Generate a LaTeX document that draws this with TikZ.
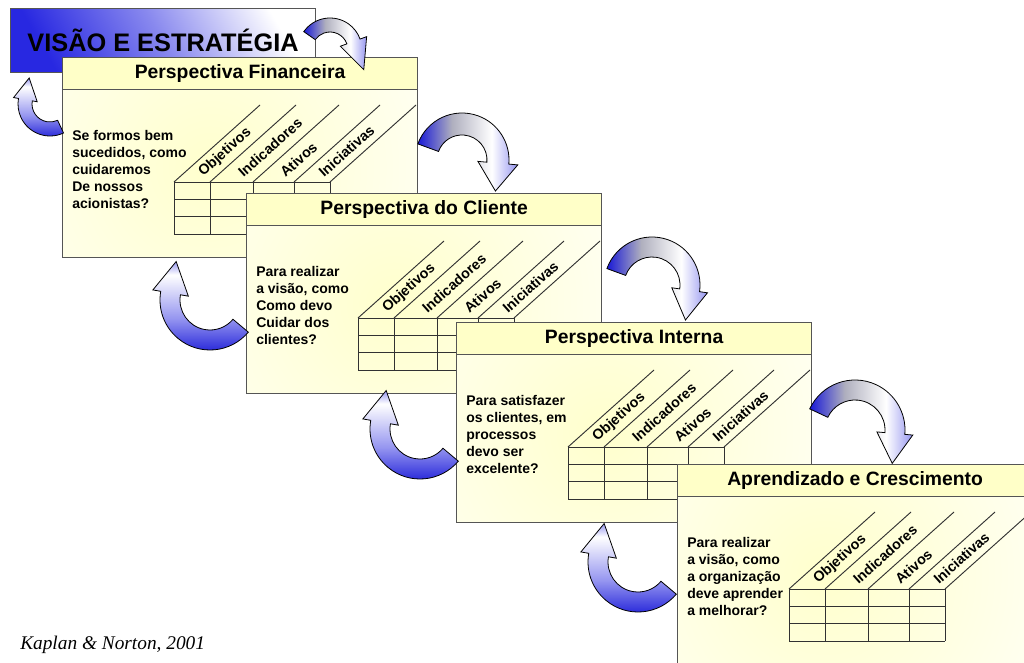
\documentclass[tikz,border=0pt]{standalone}
\usepackage{fontspec}
\setmainfont{Liberation Serif}
\setsansfont{Liberation Sans}
\usetikzlibrary{calc}
\definecolor{arrowblue}{RGB}{25,25,215}
\definecolor{arrowgray}{RGB}{175,175,190}
\definecolor{arrowlight}{RGB}{150,150,240}
\definecolor{visblue}{RGB}{40,40,225}
\definecolor{headyellow}{RGB}{255,255,200}
\definecolor{bodyyellow}{RGB}{255,255,205}
\definecolor{boxline}{RGB}{85,85,85}
\definecolor{tablinecol}{RGB}{50,50,50}

\pgfdeclarehorizontalshading{ribright}{100bp}{color(0bp)=(arrowblue); color(25bp)=(arrowblue); color(42bp)=(arrowgray); color(62bp)=(white); color(75bp)=(arrowlight); color(100bp)=(arrowlight)}
\pgfdeclareverticalshading{ribleft}{100bp}{color(0bp)=(arrowblue); color(25bp)=(arrowblue); color(45bp)=(arrowlight); color(68bp)=(white); color(75bp)=(arrowlight); color(100bp)=(arrowlight)}

% #1 centre, #2 R, #3 half band width, #4 half head width, #5 head length, #6 start angle, #7 end angle, #8 style
\newcommand{\ribbon}[8]{%
  \shade[#8] ($(#1)+({#6}:{#2+#3})$) arc[start angle={#6}, end angle={#7}, radius={#2+#3}]
    -- ($(#1)+({#7}:{#2+#4})$)
    -- ($(#1)+({#7}:{#2})+({#7-90}:{#5})$)
    -- ($(#1)+({#7}:{#2-#4})$)
    -- ($(#1)+({#7}:{#2-#3})$)
    arc[start angle={#7}, end angle={#6}, radius={#2-#3}] -- cycle;}

% #1 name, #2 x, #3 y, #4 title, #5 question
\newcommand{\persp}[5]{%
  \node[bodybox] (#1) at (#2,-#3) {};
  \node[headbox] (#1h) at (#1.north west) {#4};
  \node[question] (#1q) at ([shift={(10,-112)}]#1.north west) {#5};
  \begin{scope}[shift={(#1.north west)}]
    \foreach \yy in {125,142,159,177} \draw[tabline] (112,-\yy) -- (268,-\yy);
    \foreach \xx in {112,148,191,232,268} {
      \draw[tabline] (\xx,-125) -- (\xx,-177);
      \draw[tabline] (\xx,-125) -- ++(86,77);
    }
    \foreach \xa/\xb/\lab in {112/148/Objetivos,148/191/Indicadores,191/232/Ativos,232/268/Iniciativas}
      \node[collabel] (#1l\xa) at ({(\xa+\xb)/2+8.6},{-125+7.7}) {\lab};
  \end{scope}
}

\begin{document}
\begin{tikzpicture}[x=0.75pt,y=0.75pt,
  visbox/.style={draw=boxline, line width=0.8pt, top color=white, bottom color=visblue,
    middle color=visblue!55, shading angle=-60, minimum width=228.75pt, minimum height=48pt,
    inner sep=0pt, anchor=north west, font=\sffamily\bfseries\fontsize{19}{22}\selectfont},
  bodybox/.style={draw=boxline, line width=0.9pt, fill=white, minimum width=266.25pt,
    minimum height=150pt, inner sep=0pt, anchor=north west,
    path picture={\shade[inner color=bodyyellow, outer color=white]
      ([shift={(-30,-10)}]path picture bounding box.center) circle (320);}},
  headbox/.style={draw=boxline, line width=0.9pt, fill=headyellow, minimum width=266.25pt,
    minimum height=24pt, inner sep=0pt, anchor=north west,
    font=\sffamily\bfseries\fontsize{14.5}{17}\selectfont},
  question/.style={anchor=west, align=left, inner sep=0pt,
    font=\sffamily\bfseries\fontsize{10.5}{12.75}\selectfont},
  collabel/.style={anchor=west, rotate=41.8, inner sep=0pt,
    font=\sffamily\bfseries\fontsize{10.7}{12}\selectfont},
  tabline/.style={draw=tablinecol, line width=0.7pt},
  ribbonline/.style={draw=black, line width=0.6pt},
  rightribbon/.style={ribbonline, shading=ribright},
  leftribbon/.style={ribbonline, shading=ribleft},
  captext/.style={anchor=west, inner sep=0pt, font=\rmfamily\itshape\fontsize{14.5}{17}\selectfont}
]
\useasboundingbox (0,0) rectangle (1024,-663);
\clip (0,0) rectangle (1024,-663);

\node[visbox] (vis) at (10,-8) {VISÃO E ESTRATÉGIA};

\persp{fin}{62}{57}{Perspectiva Financeira}{Se formos bem\\sucedidos, como\\cuidaremos\\De nossos\\acionistas?}
\persp{cli}{246}{193}{Perspectiva do Cliente}{Para realizar\\a visão, como\\Como devo\\Cuidar dos\\clientes?}
\persp{int}{456}{322}{Perspectiva Interna}{Para satisfazer\\os clientes, em\\processos\\devo ser\\excelente?}
\persp{apr}{677}{464}{Aprendizado e Crescimento}{Para realizar\\a visão, como\\a organização\\deve aprender\\a melhorar?}

% curved arrows
\coordinate (cA) at (330,-50);
\coordinate (cB) at (50,-104);
\coordinate (cC) at (462,-160);
\coordinate (cD) at (210,-300);
\coordinate (cE) at (652,-285);
\coordinate (cF) at (420,-429);
\coordinate (cG) at (855,-430);
\coordinate (cH) at (638,-562);

\ribbon{cA}{25}{7}{14}{30}{145}{20}{rightribbon}
\ribbon{cB}{25}{7}{12}{22}{-65}{-190}{leftribbon}
\ribbon{cC}{36}{11}{20}{28}{160}{-5}{rightribbon}
\ribbon{cD}{40}{10}{18}{32}{-40}{-190}{leftribbon}
\ribbon{cE}{38}{10}{18}{30}{160}{-8}{rightribbon}
\ribbon{cF}{40}{10}{18}{32}{-40}{-190}{leftribbon}
\ribbon{cG}{40}{10}{18}{30}{155}{-5}{rightribbon}
\ribbon{cH}{40}{10}{18}{32}{-40}{-190}{leftribbon}

\node[captext] (cap) at (20,-645) {Kaplan \& Norton, 2001};
\end{tikzpicture}
\end{document}
